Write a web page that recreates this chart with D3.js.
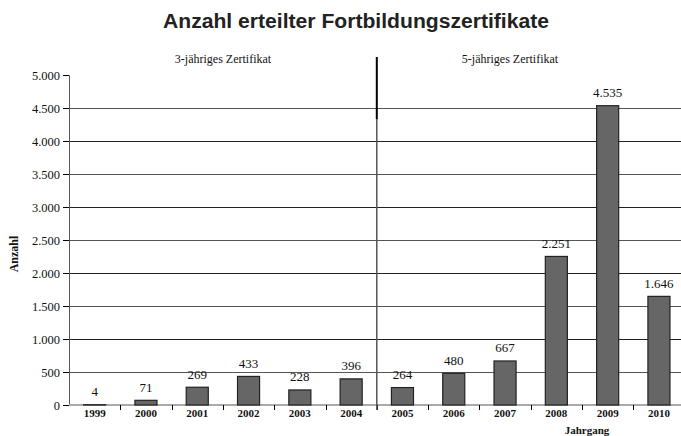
<!DOCTYPE html>
<html><head><meta charset="utf-8">
<script src="https://cdn.jsdelivr.net/npm/d3@7"></script>
<style>body{margin:0;background:#fff}svg{display:block}</style>
</head><body>
<svg id="c" width="681" height="436"></svg>
<script>
const years = ["1999","2000","2001","2002","2003","2004","2005","2006","2007","2008","2009","2010"];
const values = [4,71,269,433,228,396,264,480,667,2251,4535,1646];
const yTicks = [0,500,1000,1500,2000,2500,3000,3500,4000,4500,5000];
const sections = ["3-jähriges Zertifikat","5-jähriges Zertifikat"];

const svg = d3.select("#c");
const fmt = d3.formatLocale({decimal:",",thousands:".",grouping:[3]}).format(",d");
const serif = "'Liberation Serif','Times New Roman',serif";

const x = d3.scaleBand().domain(years).range([69, 684.6]).paddingInner(0.57).paddingOuter(0.285);
const y = d3.scaleLinear().domain([0,5000]).range([405,75]);
const step = x.step();
const x0 = 69;

// title
svg.append("text").attr("x",356).attr("y",28).attr("text-anchor","middle")
  .attr("font-family","'Liberation Sans',Arial,sans-serif").attr("font-weight","bold")
  .attr("font-size",19.5).attr("fill","#222")
  .attr("textLength",386).attr("lengthAdjust","spacingAndGlyphs")
  .text("Anzahl erteilter Fortbildungszertifikate");

// gridlines
svg.append("g").selectAll("line").data(yTicks.filter(d=>d>0 && d<5000)).join("line")
  .attr("x1",x0).attr("x2",681).attr("y1",d=>Math.round(y(d))+0.5).attr("y2",d=>Math.round(y(d))+0.5)
  .attr("stroke",(d,i)=>i%2? "#222":"#555").attr("stroke-width",1);

// y axis
const ya = svg.append("g").attr("transform",`translate(${x0},0)`)
  .call(d3.axisLeft(y).tickValues(yTicks).tickFormat(fmt).tickSize(6).tickPadding(3));
ya.select(".domain").attr("stroke","#555");
ya.selectAll(".tick line").attr("stroke","#000");
ya.selectAll(".tick text").attr("font-family",serif).attr("font-size",12.5).attr("fill","#111");

// x axis line
svg.append("line").attr("x1",x0).attr("x2",681).attr("y1",405).attr("y2",405)
  .attr("stroke","#aaa").attr("stroke-width",2);
// boundary ticks
svg.append("g").selectAll("line").data(d3.range(1,12)).join("line")
  .attr("x1",i=>Math.round(x0+i*step)+0.5).attr("x2",i=>Math.round(x0+i*step)+0.5)
  .attr("y1",405).attr("y2",410).attr("stroke","#000");

// bars
svg.append("g").selectAll("rect").data(values).join("rect")
  .attr("x",(d,i)=>x(years[i])).attr("width",x.bandwidth())
  .attr("y",d=>y(d)).attr("height",d=>405-y(d))
  .attr("fill","#666").attr("stroke","#222").attr("stroke-width",1.2);

// value labels
svg.append("g").selectAll("text").data(values).join("text")
  .attr("x",(d,i)=>x(years[i])+x.bandwidth()/2).attr("y",d=>y(d)-8.5)
  .attr("text-anchor","middle").attr("font-family",serif).attr("font-size",13).attr("fill","#111")
  .text(d=>fmt(d));

// year labels
svg.append("g").selectAll("text").data(years).join("text")
  .attr("x",d=>x(d)+x.bandwidth()/2).attr("y",417)
  .attr("text-anchor","middle").attr("font-family",serif).attr("font-weight","bold")
  .attr("font-size",11).attr("fill","#111").text(d=>d);

// divider
const xd = x0+6*step;
svg.append("line").attr("x1",xd).attr("x2",xd).attr("y1",119).attr("y2",410).attr("stroke","#555").attr("stroke-width",1.5);
svg.append("line").attr("x1",xd).attr("x2",xd).attr("y1",57).attr("y2",119).attr("stroke","#000").attr("stroke-width",2);

// section labels
svg.append("text").attr("x",223).attr("y",63).attr("text-anchor","middle")
  .attr("font-family",serif).attr("font-size",12).attr("fill","#111").text(sections[0]);
svg.append("text").attr("x",510).attr("y",63).attr("text-anchor","middle")
  .attr("font-family",serif).attr("font-size",12).attr("fill","#111").text(sections[1]);

// axis titles
svg.append("text").attr("transform","translate(18,254) rotate(-90)").attr("text-anchor","middle")
  .attr("font-family",serif).attr("font-weight","bold").attr("font-size",12).attr("fill","#111").text("Anzahl");
svg.append("text").attr("x",587).attr("y",434).attr("text-anchor","middle")
  .attr("font-family",serif).attr("font-weight","bold").attr("font-size",11).attr("fill","#111").text("Jahrgang");
</script>
</body></html>
